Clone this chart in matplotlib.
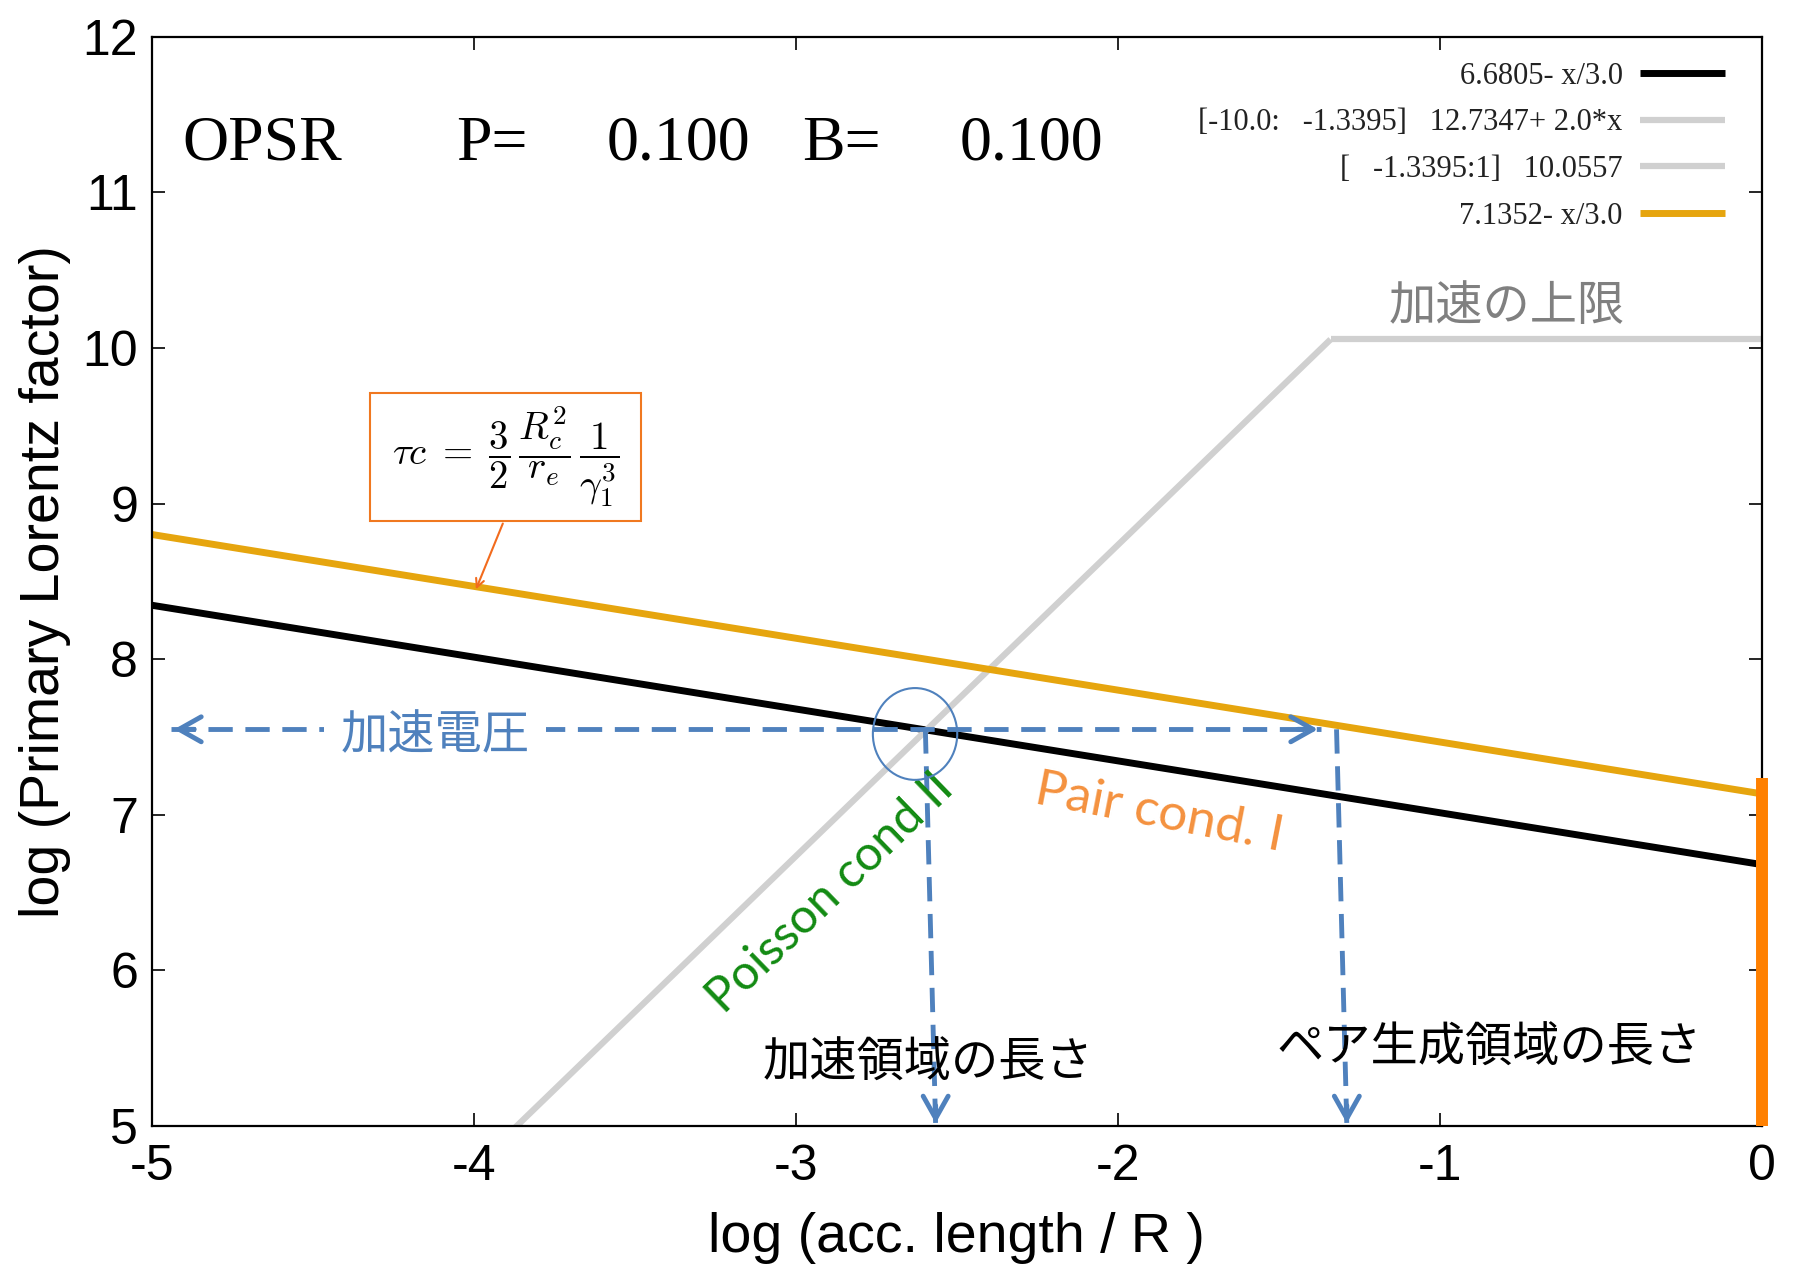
import matplotlib
matplotlib.use("Agg")
import matplotlib.pyplot as plt
from matplotlib.patches import Ellipse, Rectangle

# line data: log(acc. length / R) vs log(gamma)
x_line = [-5.0, 0.0]
gamma_pois = [8.3472, 6.6805]        # 6.6805 - x/3
gamma_pair = [8.8019, 7.1352]        # 7.1352 - x/3
x_up1 = [-10.0, -1.3395]
gamma_up1 = [-7.2653, 10.0557]       # 12.7347 + 2x
x_up2 = [-1.3395, 1.0]
gamma_up2 = [10.0557, 10.0557]

labels = ["6.6805- x/3.0",
          "[-10.0:   -1.3395]   12.7347+ 2.0*x",
          "[   -1.3395:1]   10.0557",
          "7.1352- x/3.0"]

# hand drawn guide arrows
v_acc = 7.55
h_arrow_x = [-4.94, -1.37]
acc_len_x = [-2.598, -2.566]
pair_len_x = [-1.321, -1.289]
bar_top = 7.24

blue = "#4f81bd"
orange_line = "#e6a50e"
gray = "#d0d0d0"

plt.rcParams["font.family"] = ["Liberation Sans", "Noto Sans CJK JP"]
plt.rcParams["mathtext.fontset"] = "cm"
plt.rcParams["axes.unicode_minus"] = False

fig = plt.figure(figsize=(17.96, 12.71), dpi=100)
ax = fig.add_axes([0.0846, 0.114, 0.8964, 0.857])

ax.plot(x_line, gamma_pois, color="black", lw=5, label=labels[0], solid_capstyle="butt")
ax.plot(x_up1, gamma_up1, color=gray, lw=4.5, label=labels[1], solid_capstyle="butt")
ax.plot(x_up2, gamma_up2, color=gray, lw=4.5, label=labels[2], solid_capstyle="butt")
ax.plot(x_line, gamma_pair, color=orange_line, lw=5, label=labels[3], solid_capstyle="butt")

ax.set_xlim(-5, 0)
ax.set_ylim(5, 12)
ax.set_xticks(range(-5, 1))
ax.set_yticks(range(5, 13))
ax.tick_params(direction="in", length=9.5, width=1.2, labelsize=36, pad=10,
               top=True, right=True)
ax.tick_params(axis="x", pad=13)
for s in ax.spines.values():
    s.set_linewidth(1.6)
ax.set_xlabel("log (acc. length / R )", fontsize=40, labelpad=16)
ax.set_ylabel("log (Primary Lorentz factor)", fontsize=40, labelpad=8)

leg = ax.legend(loc="upper right", bbox_to_anchor=(0.9605, 0.9515),
                bbox_transform=fig.transFigure, frameon=False, markerfirst=False,
                prop={"family": "Liberation Serif", "size": 22},
                handlelength=2.8, handletextpad=0.55, labelspacing=0.58,
                borderpad=0, borderaxespad=0)
for t in leg.get_texts():
    t.set_color("#222222")

# header text
serif = {"family": "Liberation Serif", "size": 46}
for xx, s in [(-4.904, "OPSR"), (-4.056, "P="), (-3.587, "0.100"),
              (-2.981, "B="), (-2.491, "0.100")]:
    ax.text(xx, 11.21, s, ha="left", va="baseline", fontdict=serif)

# orange marker on the right edge
ax.plot([0, 0], [5, bar_top], color="#ff8000", lw=8.6, clip_on=False,
        solid_capstyle="butt", zorder=5)

# formula box
ax.add_patch(Rectangle((-4.323, 8.889), 0.842, 0.823, fill=False,
                       edgecolor="#f07820", lw=1.5, zorder=4))
ax.text(-3.902, 9.30,
        r"$\tau c\;=\;\dfrac{3}{2}\,\dfrac{R_c^2}{r_e}\,\dfrac{1}{\gamma_1^3}$",
        ha="center", va="center", fontsize=28)
ax.annotate("", xy=(-3.997, 8.433), xytext=(-3.907, 8.889),
            arrowprops=dict(arrowstyle="->,head_length=0.6,head_width=0.3",
                            color="#f26b1d", lw=1.5))

# guide lines
dash = (5, 2.6)
ax.plot(h_arrow_x, [v_acc, v_acc], color=blue, lw=3.5, dashes=dash, zorder=3)
ax.plot(acc_len_x, [v_acc, 5.0], color=blue, lw=3.5, dashes=dash, zorder=3)
ax.plot(pair_len_x, [v_acc, 5.0], color=blue, lw=3.5, dashes=dash, zorder=3)
head = dict(arrowstyle="->,head_length=0.8,head_width=0.45", color=blue, lw=3.5,
            mutation_scale=20)
ax.annotate("", xy=(h_arrow_x[0], v_acc), xytext=(h_arrow_x[0] + 0.08, v_acc), arrowprops=head)
ax.annotate("", xy=(h_arrow_x[1], v_acc), xytext=(h_arrow_x[1] - 0.08, v_acc), arrowprops=head)
ax.annotate("", xy=(acc_len_x[1], 5.0), xytext=(acc_len_x[1], 5.15), arrowprops=head)
ax.annotate("", xy=(pair_len_x[1], 5.0), xytext=(pair_len_x[1], 5.15), arrowprops=head)

ax.add_patch(Ellipse((-2.630, 7.52), 0.262, 0.59, fill=False, edgecolor=blue, lw=1.5, zorder=4))

jp = ["Noto Sans CJK JP", "DejaVu Sans"]
ax.text(-4.12, 7.507, "加速電圧", color=blue, fontsize=34, family=jp, ha="center", va="center",
        bbox=dict(facecolor="white", edgecolor="none", pad=12), zorder=4)
ax.text(-0.792, 10.264, "加速の上限", color="#808080", fontsize=34, family=jp,
        ha="center", va="center")
ax.text(-2.59, 5.405, "加速領域の長さ", color="black", fontsize=34, family=jp,
        ha="center", va="center")
ax.text(-0.848, 5.50, "ペア生成領域の長さ", color="black", fontsize=34, family=jp,
        ha="center", va="center")

ax.text(-2.894, 6.497, "Poisson cond II", color="#128a12", fontsize=35, family="Lato",
        rotation=44, ha="center", va="center", rotation_mode="anchor")
ax.text(-1.873, 7.012, "Pair cond. I", color="#f4913e", fontsize=37, family="Lato",
        rotation=-11, ha="center", va="center", rotation_mode="anchor")

fig.savefig("out.png", dpi=100)
